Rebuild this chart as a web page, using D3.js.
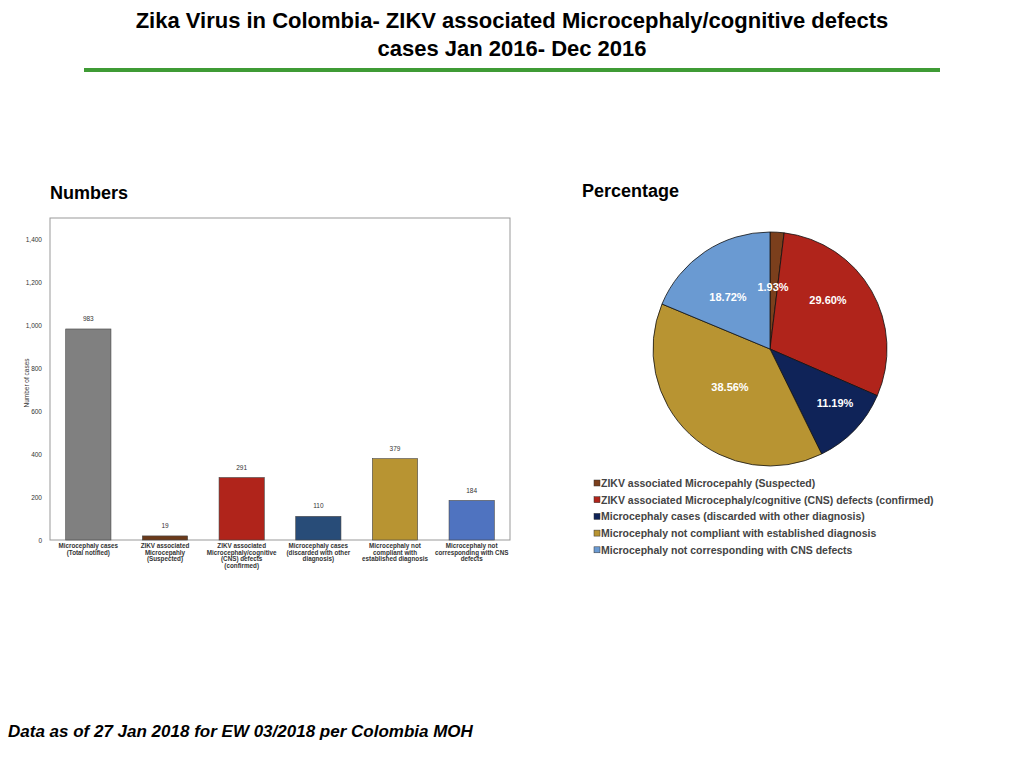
<!DOCTYPE html>
<html><head><meta charset="utf-8">
<script src="https://cdn.jsdelivr.net/npm/d3@7"></script>
<style>body{margin:0;background:#fff;font-family:"Liberation Sans",Arial,sans-serif}</style>
</head><body><svg id="c" width="1024" height="768"></svg>
<script>
const categories = [
  ["Microcephaly cases", "(Total notified)"],
  ["ZIKV associated", "Microcepahly", "(Suspected)"],
  ["ZIKV associated", "Microcephaly/cognitive", "(CNS) defects", "(confirmed)"],
  ["Microcephaly cases", "(discarded with other", "diagnosis)"],
  ["Microcephaly not", "compliant with", "established diagnosis"],
  ["Microcephaly not", "corresponding with CNS", "defects"]
];
const counts = [983, 19, 291, 110, 379, 184];
const barColors = ["#808080", "#6b3a1a", "#b0241b", "#284c78", "#b89432", "#4f73c0"];
const yTicks = [0, 200, 400, 600, 800, 1000, 1200, 1400];

const pieLabels = ["ZIKV associated Microcepahly (Suspected)", "ZIKV associated Microcephaly/cognitive (CNS) defects (confirmed)",
  "Microcephaly cases (discarded with other diagnosis)", "Microcephaly not compliant with established diagnosis",
  "Microcephaly not corresponding with CNS defects"];
const piePct = [1.93, 29.60, 11.19, 38.56, 18.72];
const pieColors = ["#7b3f1c", "#b0241b", "#0f2358", "#b89432", "#6a9ad2"];

const svg = d3.select("#c");
svg.append("text").attr("x", 512).attr("y", 28).attr("text-anchor", "middle").attr("font-size", 22).attr("font-weight", "bold").text("Zika Virus in Colombia- ZIKV associated Microcephaly/cognitive defects");
svg.append("text").attr("x", 512).attr("y", 56).attr("text-anchor", "middle").attr("font-size", 22).attr("font-weight", "bold").text("cases Jan 2016- Dec 2016");
svg.append("line").attr("x1", 84).attr("x2", 940).attr("y1", 70).attr("y2", 70).attr("stroke", "#3f9b35").attr("stroke-width", 4);
svg.append("text").attr("x", 50).attr("y", 199).attr("font-size", 18).attr("font-weight", "bold").text("Numbers");
svg.append("text").attr("x", 582).attr("y", 197).attr("font-size", 18).attr("font-weight", "bold").text("Percentage");
svg.append("text").attr("x", 8).attr("y", 737).attr("font-size", 17).attr("font-weight", "bold").attr("font-style", "italic").text("Data as of 27 Jan 2018 for EW 03/2018 per Colombia MOH");

// bar chart
const L = 50, R = 510, T = 218, B = 540;
const x = d3.scaleBand().domain(d3.range(counts.length)).range([L, R]).paddingInner(0.41).paddingOuter(0.205);
const y = d3.scaleLinear().domain([0, 1500]).range([B, T]);
svg.append("rect").attr("x", L).attr("y", T).attr("width", R - L).attr("height", B - T).attr("fill", "none").attr("stroke", "#999");
const ya = svg.append("g").attr("transform", `translate(${L},0)`).call(d3.axisLeft(y).tickValues(yTicks).tickSize(0).tickPadding(8));
ya.select(".domain").remove();
ya.selectAll("text").attr("font-size", 6.5).attr("fill", "#333").attr("font-family", "Liberation Sans");
svg.append("text").attr("transform", "translate(29,383) rotate(-90)").attr("text-anchor", "middle").attr("font-size", 6.5).attr("fill", "#333").text("Number of cases");
svg.append("g").selectAll("rect").data(counts).join("rect")
  .attr("x", (d, i) => x(i)).attr("width", x.bandwidth()).attr("y", d => y(d)).attr("height", d => B - y(d))
  .attr("fill", (d, i) => barColors[i]).attr("stroke", "#444").attr("stroke-width", 0.6);
svg.append("g").selectAll("text").data(counts).join("text")
  .attr("x", (d, i) => x(i) + x.bandwidth() / 2).attr("y", d => y(d) - 8).attr("text-anchor", "middle")
  .attr("font-size", 6.5).attr("fill", "#333").text(d => d);
categories.forEach((lines, i) => {
  const t = svg.append("text").attr("x", x(i) + x.bandwidth() / 2).attr("y", 548).attr("text-anchor", "middle").attr("font-size", 6.3).attr("fill", "#333").attr("font-weight", "bold");
  lines.forEach((s, j) => t.append("tspan").attr("x", x(i) + x.bandwidth() / 2).attr("dy", j ? 6.6 : 0).text(s));
});

// pie
const cx = 770, cy = 349, r = 117;
const arcs = d3.pie().sort(null).value(d => d)(piePct);
const arc = d3.arc().innerRadius(0).outerRadius(r);
const g = svg.append("g").attr("transform", `translate(${cx},${cy})`);
g.selectAll("path").data(arcs).join("path").attr("d", arc).attr("fill", (d, i) => pieColors[i]).attr("stroke", "#111").attr("stroke-width", 0.8);
const labelPos = [[3, -58], [58, -45], [65, 58], [-40, 42], [-42, -48]];
g.selectAll("text").data(arcs).join("text")
  .attr("x", (d, i) => labelPos[i][0]).attr("y", (d, i) => labelPos[i][1]).attr("text-anchor", "middle")
  .attr("font-size", 11).attr("font-weight", "bold").attr("fill", "#fff").text(d => d.data.toFixed(2) + "%");

const lg = svg.append("g").attr("transform", "translate(594,483)");
pieLabels.forEach((s, i) => {
  lg.append("rect").attr("x", 0).attr("y", i * 16.7 - 3).attr("width", 6).attr("height", 6).attr("fill", pieColors[i]).attr("stroke", "#333").attr("stroke-width", 0.5);
  lg.append("text").attr("x", 7).attr("y", i * 16.7 + 4).attr("font-size", 10.5).attr("font-weight", "bold").attr("fill", "#444").text(s);
});
</script></body></html>
